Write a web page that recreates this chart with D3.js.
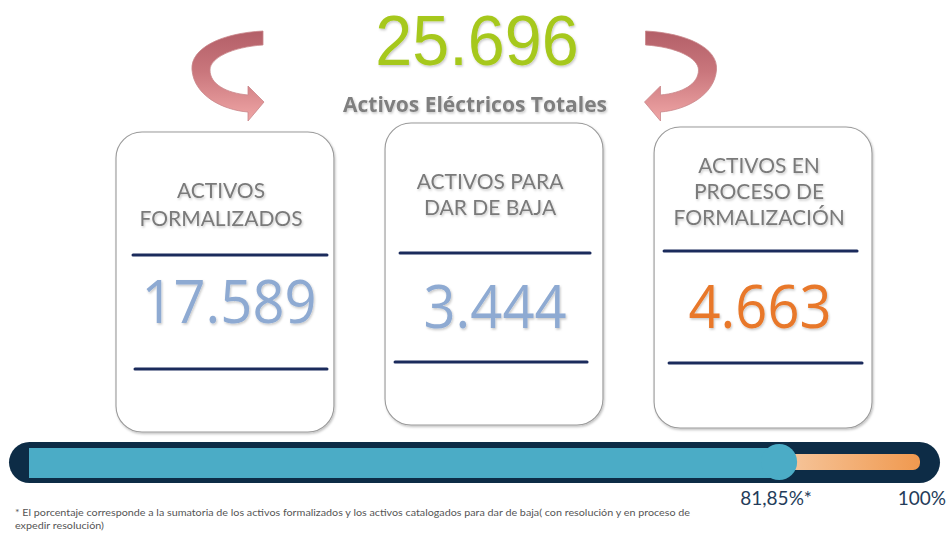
<!DOCTYPE html>
<html><head><meta charset="utf-8">
<script src="https://cdn.jsdelivr.net/npm/d3@7"></script>
<style>html,body{margin:0;padding:0;background:#fff;}svg{display:block;}</style>
</head><body>
<script>
// ---------------- DATA ----------------
const totalAssets = 25696;
const totalLabel = "Activos Eléctricos Totales";
const categories = ["ACTIVOS FORMALIZADOS", "ACTIVOS PARA DAR DE BAJA", "ACTIVOS EN PROCESO DE FORMALIZACIÓN"];
const titleLines = [["ACTIVOS", "FORMALIZADOS"], ["ACTIVOS PARA", "DAR DE BAJA"], ["ACTIVOS EN", "PROCESO DE", "FORMALIZACIÓN"]];
const values = [17589, 3444, 4663];
const progressValue = 81.85;
const progressMax = 100;
const progressLabels = ["81,85%*", "100%"];
const footnote = [
  "* El porcentaje corresponde a la sumatoria de los activos formalizados y los activos  catalogados para dar de baja( con resolución y en proceso de",
  "expedir resolución)"
];

// ---------------- LAYOUT / STYLE ----------------
const W = 946, H = 534;
const valueColors = ["#8eaad2", "#8eaad2", "#e8782a"];
const boxLayout = [
  {top: 132, bottom: 432, titleY: [198, 226], line1: [17, 211, 255], numY: 323, numDx: 113, line2: [19, 211, 369]},
  {top: 123, bottom: 425, titleY: [189, 215], line1: [15, 205, 253], numY: 328, numDx: 110, line2: [10, 202, 362]},
  {top: 127, bottom: 428, titleY: [173, 199, 225], line1: [10, 203, 251], numY: 328, numDx: 106, line2: [15, 208, 363]}
];

const fmt = d3.formatLocale({decimal: ",", thousands: ".", grouping: [3], currency: ["$", ""]}).format(",d");

const svg = d3.select("body").append("svg").attr("width", W).attr("height", H);
const defs = svg.append("defs");

const sh = defs.append("filter").attr("id", "shadow").attr("x", "-10%").attr("y", "-10%").attr("width", "130%").attr("height", "130%");
sh.append("feDropShadow").attr("dx", 1).attr("dy", 1.5).attr("stdDeviation", 1.2).attr("flood-color", "#000").attr("flood-opacity", 0.25);
const tsh = defs.append("filter").attr("id", "tshadow").attr("x", "-10%").attr("y", "-20%").attr("width", "130%").attr("height", "150%");
tsh.append("feDropShadow").attr("dx", 1).attr("dy", 1.5).attr("stdDeviation", 1).attr("flood-color", "#000").attr("flood-opacity", 0.22);

const ag = defs.append("linearGradient").attr("id", "arrowGrad").attr("x1", 0).attr("y1", 0).attr("x2", 0).attr("y2", 1);
ag.append("stop").attr("offset", "0%").attr("stop-color", "#b35f68");
ag.append("stop").attr("offset", "45%").attr("stop-color", "#c9767c");
ag.append("stop").attr("offset", "100%").attr("stop-color", "#f0a6a6");

const og = defs.append("linearGradient").attr("id", "orangeGrad").attr("x1", 0).attr("y1", 0).attr("x2", 1).attr("y2", 0);
og.append("stop").attr("offset", "0%").attr("stop-color", "#f6c9a2");
og.append("stop").attr("offset", "100%").attr("stop-color", "#f0994f");

function squeezeText(factor) {
  return sel => sel.each(function () {
    const L = this.getComputedTextLength();
    d3.select(this).attr("textLength", L * factor).attr("lengthAdjust", "spacingAndGlyphs");
  });
}

// ---------------- HEADER ----------------
svg.append("text")
  .attr("x", 477).attr("y", 65).attr("text-anchor", "middle")
  .style("font-family", "'Liberation Sans', Arial, sans-serif").style("font-size", "70px")
  .attr("fill", "#a6c81e").attr("filter", "url(#tshadow)")
  .text(fmt(totalAssets)).call(squeezeText(0.95));

svg.append("text")
  .attr("x", 475).attr("y", 112).attr("text-anchor", "middle")
  .style("font-family", "'Open Sans', sans-serif").style("font-size", "21px").style("font-weight", "bold")
  .attr("fill", "#7f7f7f").attr("filter", "url(#tshadow)")
  .text(totalLabel);

// curved arrows
const ap = d3.path();
ap.moveTo(263, 31);
ap.bezierCurveTo(222, 33, 190, 48, 192, 70);
ap.bezierCurveTo(194, 95, 222, 110, 248, 112);
ap.lineTo(248, 121);
ap.lineTo(264, 102);
ap.lineTo(248, 86);
ap.lineTo(248, 95);
ap.bezierCurveTo(226, 93, 210, 84, 210, 70);
ap.bezierCurveTo(210, 58, 232, 47, 263, 45);
ap.closePath();
const arrowD = ap.toString();
svg.append("path").attr("d", arrowD).attr("fill", "url(#arrowGrad)").attr("stroke", "#c9878a").attr("stroke-width", 0.8);
svg.append("path").attr("d", arrowD).attr("fill", "url(#arrowGrad)").attr("stroke", "#c9878a").attr("stroke-width", 0.8)
  .attr("transform", "translate(908.5,0) scale(-1,1)");

// ---------------- BOXES ----------------
const xBand = d3.scaleBand().domain(categories).range([116, 872]).paddingInner(0.19).paddingOuter(0);

const boxes = svg.selectAll("g.box").data(categories).join("g").attr("class", "box");
boxes.each(function (cat, i) {
  const g = d3.select(this);
  const x0 = xBand(cat), bw = xBand.bandwidth(), L = boxLayout[i];
  g.append("rect").attr("x", x0).attr("y", L.top).attr("width", bw).attr("height", L.bottom - L.top)
    .attr("rx", 26).attr("ry", 26).attr("fill", "#fff").attr("stroke", "#9a9a9a").attr("stroke-width", 1.1)
    .attr("filter", "url(#shadow)");
  g.selectAll("text.title").data(titleLines[i]).join("text").attr("class", "title")
    .attr("x", x0 + 105).attr("y", (d, j) => L.titleY[j]).attr("text-anchor", "middle")
    .style("font-family", "Lato, 'Open Sans', sans-serif").style("font-size", "21px")
    .attr("fill", "#7a7a7a").attr("filter", "url(#tshadow)").text(d => d);
  g.append("line").attr("x1", x0 + L.line1[0]).attr("x2", x0 + L.line1[1]).attr("y1", L.line1[2]).attr("y2", L.line1[2])
    .attr("stroke", "#1b2b5c").attr("stroke-width", 3).attr("stroke-linecap", "round");
  g.append("text").attr("x", x0 + L.numDx).attr("y", L.numY).attr("text-anchor", "middle")
    .style("font-family", "'Open Sans', sans-serif").style("font-size", "61px")
    .attr("fill", valueColors[i]).attr("filter", "url(#tshadow)")
    .text(fmt(values[i])).call(squeezeText(0.92));
  g.append("line").attr("x1", x0 + L.line2[0]).attr("x2", x0 + L.line2[1]).attr("y1", L.line2[2]).attr("y2", L.line2[2])
    .attr("stroke", "#1b2b5c").attr("stroke-width", 3).attr("stroke-linecap", "round");
});

// ---------------- PROGRESS BAR ----------------
const xP = d3.scaleLinear().domain([0, progressMax]).range([10, 946]);
const cy = 462;
svg.append("rect").attr("x", 9).attr("y", 442).attr("width", 931).attr("height", 41).attr("rx", 20.5).attr("fill", "#0d2c46");
// remaining (orange) track
svg.append("rect").attr("x", xP(progressValue)).attr("y", 454).attr("width", 920 - xP(progressValue)).attr("height", 16)
  .attr("rx", 7).attr("fill", "url(#orangeGrad)");
// filled (blue) portion
svg.append("rect").attr("x", 29).attr("y", 448).attr("width", xP(progressValue) - 29).attr("height", 30).attr("fill", "#4bacc6");
svg.append("circle").attr("cx", xP(progressValue) + 3).attr("cy", cy).attr("r", 18).attr("fill", "#4bacc6");

svg.append("text").attr("x", xP(progressValue)).attr("y", 505).attr("text-anchor", "middle")
  .style("font-family", "Lato, 'Open Sans', sans-serif").style("font-size", "19px").attr("fill", "#243c5a")
  .text(progressLabels[0]);
svg.append("text").attr("x", xP(progressMax)).attr("y", 505).attr("text-anchor", "end")
  .style("font-family", "Lato, 'Open Sans', sans-serif").style("font-size", "19px").attr("fill", "#243c5a")
  .text(progressLabels[1]);

// ---------------- FOOTNOTE ----------------
const notes = svg.selectAll("text.note").data(footnote).join("text").attr("class", "note")
  .attr("x", 15).attr("y", (d, i) => 516 + i * 13)
  .style("font-family", "Lato, 'Open Sans', sans-serif").style("font-size", "10px").attr("fill", "#555")
  .text(d => d);
const noteFactor = 675 / notes.node().getComputedTextLength();
notes.call(squeezeText(noteFactor));
</script>
</body></html>
